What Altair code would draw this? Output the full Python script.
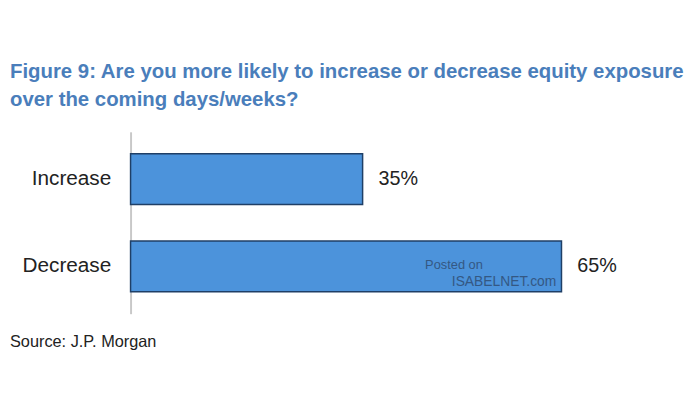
import altair as alt
import pandas as pd

categories = ["Increase", "Decrease"]
values = [35, 65]
labels = ["35%", "65%"]

df = pd.DataFrame({"answer": categories, "share": values, "label": labels})

W, H = 552, 184

y_enc = alt.Y("answer:N", sort=categories,
              scale=alt.Scale(paddingInner=0.42, paddingOuter=0.25),
              axis=alt.Axis(title=None, ticks=False, labelFontSize=21,
                            labelFont="Liberation Sans", labelColor="#222222",
                            labelPadding=20, domainColor="#C8C8C8",
                            domainWidth=2, grid=False))
x_enc = alt.X("share:Q", scale=alt.Scale(domain=[0, 82.3]), axis=None)

base = alt.Chart(df)

bars = base.mark_bar(color="#4C93DB", stroke="#1F3F66", strokeWidth=1.5).encode(
    x=x_enc, y=y_enc)

text = base.mark_text(align="left", dx=16, fontSize=20, font="Liberation Sans",
                      color="#222222").encode(
    x=x_enc, y=alt.Y("answer:N", sort=categories), text="label:N")

src = alt.Chart(pd.DataFrame({"t": ["Source: J.P. Morgan"]})).mark_text(
    align="left", baseline="middle", fontSize=16.5, font="Liberation Sans",
    color="#222222").encode(x=alt.value(-122), y=alt.value(H + 29), text="t:N")

wm = alt.Chart(pd.DataFrame({"t": ["Posted on", "ISABELNET.com"],
                             "xx": [298, 325], "yy": [135, 152],
                             "fs": [13, 14]})).mark_text(
    align="left", baseline="middle", font="Liberation Sans",
    color="#2F4A6E", opacity=0.8).encode(
    x=alt.X("xx:Q", scale=None), y=alt.Y("yy:Q", scale=None), text="t:N",
    size=alt.Size("fs:Q", scale=None, legend=None))

chart = alt.layer(bars, text, src, wm).properties(
    width=W, height=H,
    title=alt.TitleParams(
        ["Figure 9: Are you more likely to increase or decrease equity exposure",
         "over the coming days/weeks?"],
        anchor="start", frame="group", dx=-122, offset=22, fontSize=20.6,
        font="Liberation Sans", fontWeight="bold", color="#4A7EBB",
        lineHeight=28),
    autosize=alt.AutoSizeParams(type="none"),
    padding={"left": 124, "top": 123, "right": 16, "bottom": 80},
).configure_view(stroke=None)

chart.save("out.html", embed_options={"renderer": "svg", "actions": False})
